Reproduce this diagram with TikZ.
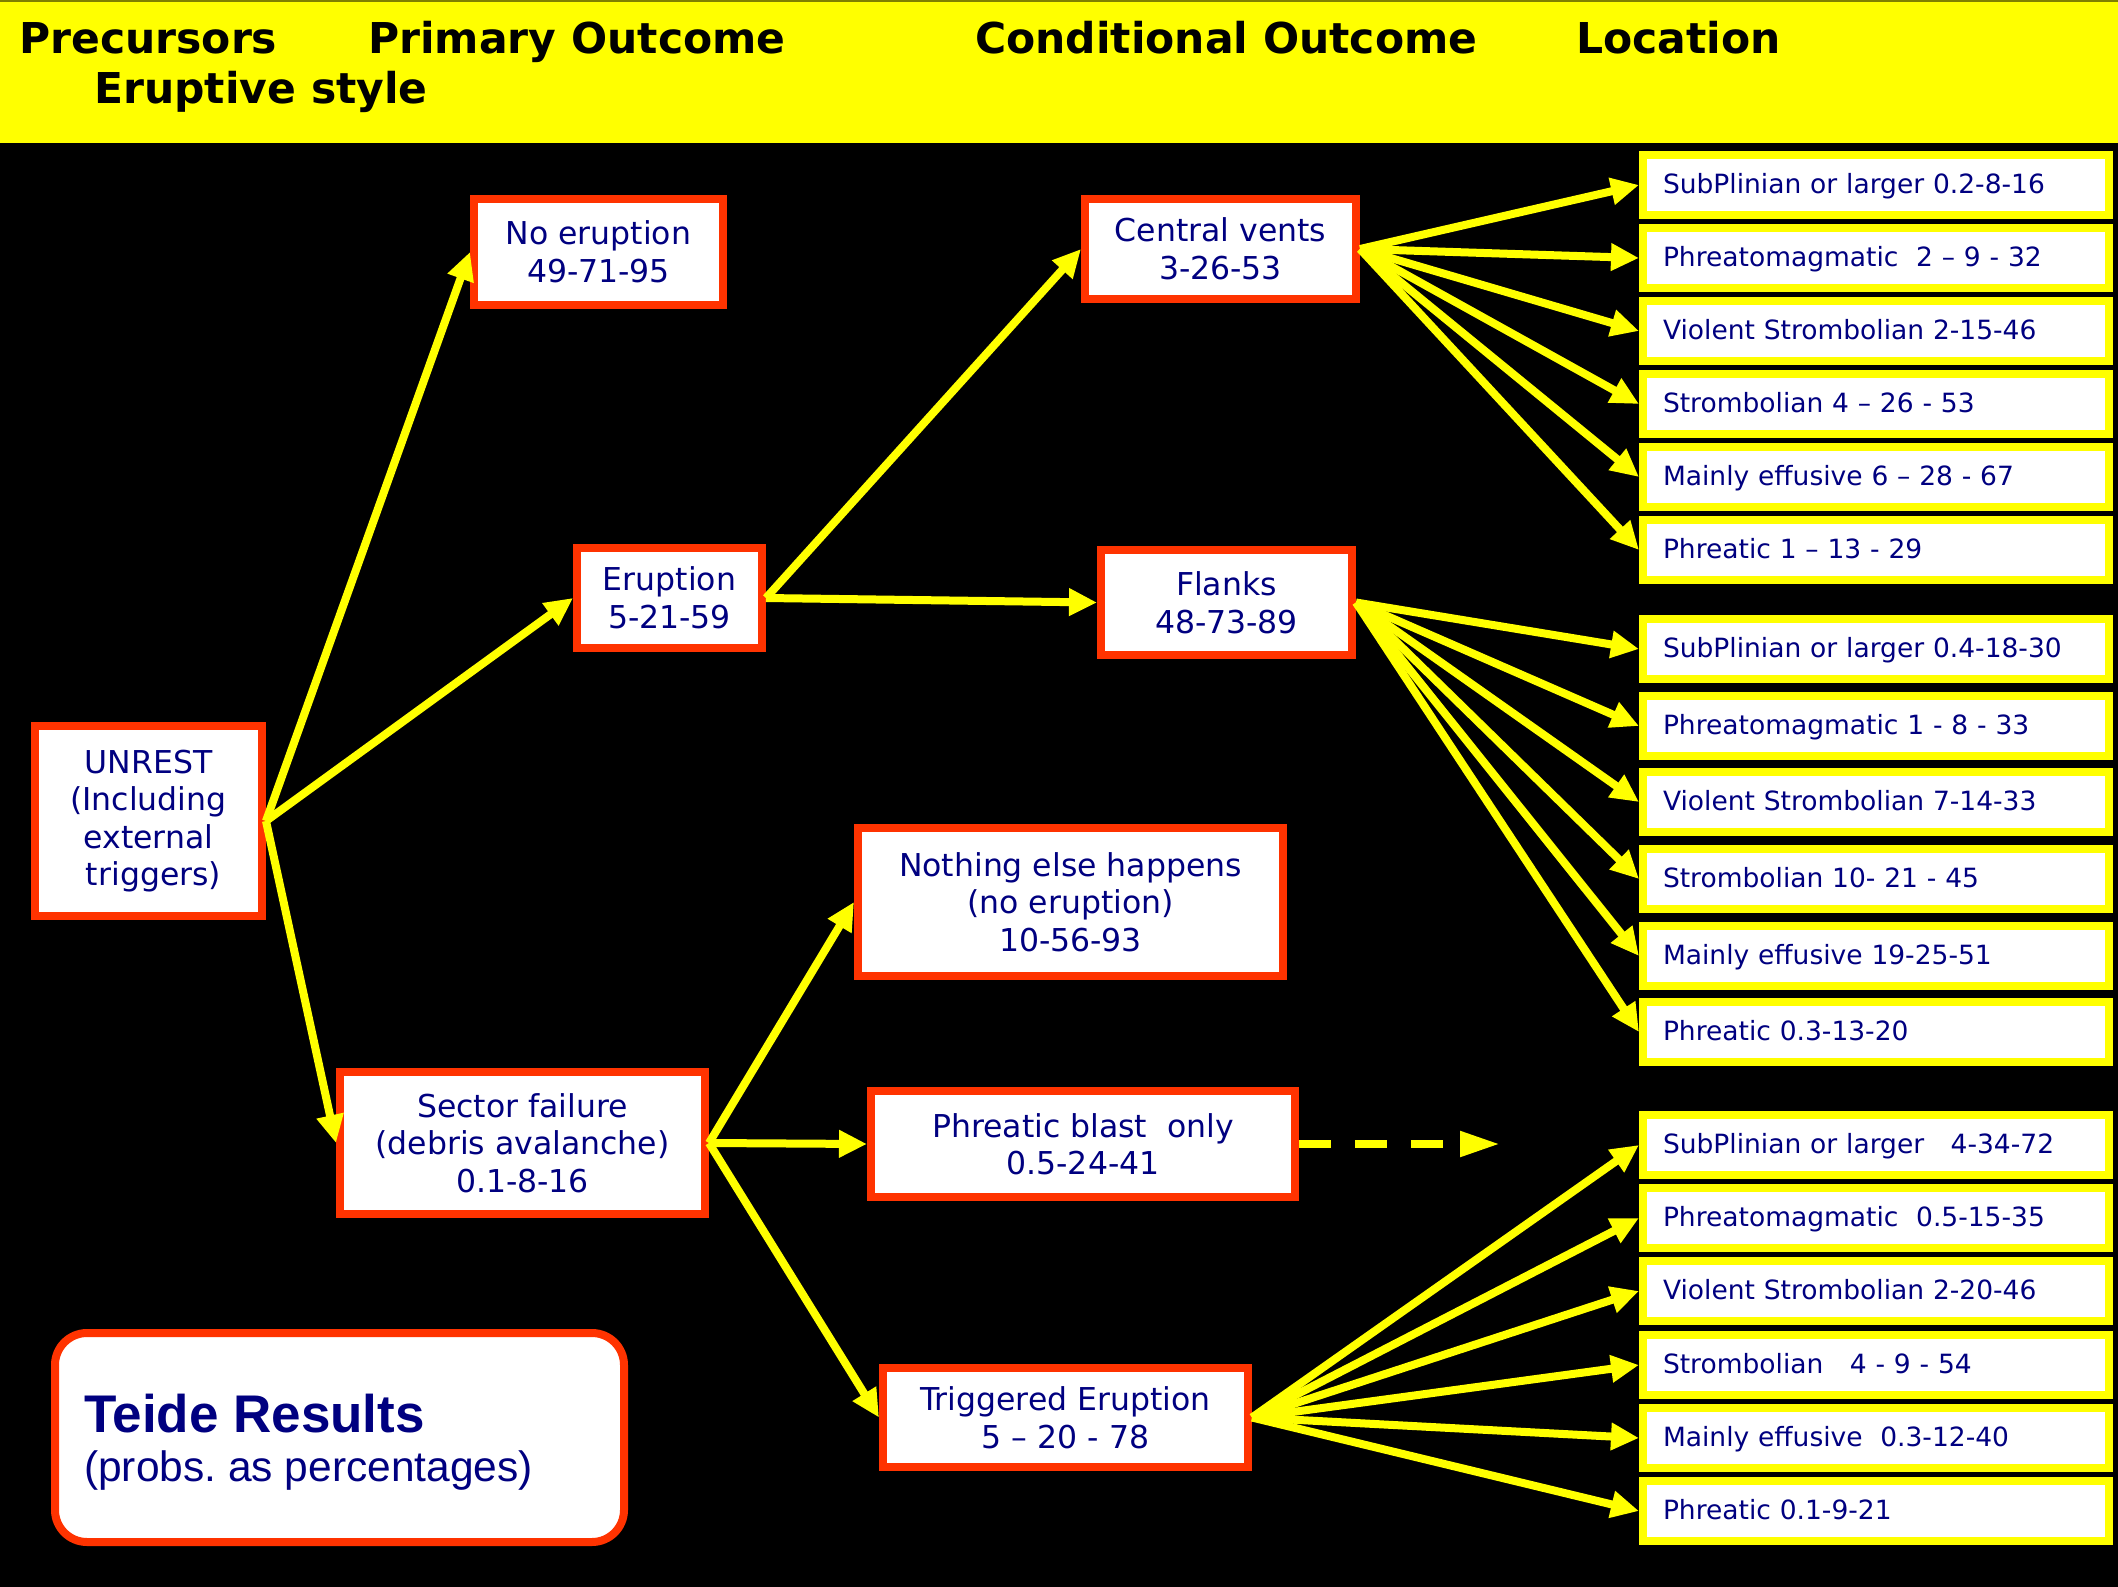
\documentclass[tikz,border=0pt]{standalone}
\usepackage{fontspec}
\setmainfont{DejaVu Sans}
\newfontfamily\titlefont{Liberation Sans}
\usetikzlibrary{arrows.meta}

\definecolor{boxred}{HTML}{FF3300}
\definecolor{txtnavy}{HTML}{000080}
\definecolor{hiyellow}{HTML}{FFFF00}
\definecolor{bandedge}{HTML}{7F7F00}

\tikzset{
  outcome/.style={draw=boxred, line width=8pt, fill=white, text=txtnavy,
    align=center, inner sep=0pt, font=\fontsize{31.5}{37.5}\selectfont},
  stylebox/.style={draw=hiyellow, line width=8pt, fill=white, text=txtnavy,
    font=\fontsize{26.5}{32}\selectfont, minimum width=466pt, minimum height=60pt,
    text width=426pt, inner xsep=20pt, inner ysep=0pt, align=left,
    text height=19pt, text depth=3pt},
  flow/.style={draw=hiyellow, line width=8pt, -{Triangle[length=28pt,width=26pt]}},
  header/.style={font=\fontsize{42.5}{50}\selectfont\bfseries, text=black,
    anchor=base west, inner sep=0pt},
}

\begin{document}
\begin{tikzpicture}[x=1pt, y=-1pt]
\useasboundingbox (0,0) rectangle (2118,1587);
% background and title band
\fill[black] (0,0) rectangle (2118,1587);
\fill[hiyellow] (0,0) rectangle (2118,143);
\draw[bandedge, line width=2pt] (0,1) -- (2118,1);

% column headings
\node[header] (hprec) at (19,54) {Precursors};
\node[header] (hprim) at (368,54) {Primary Outcome};
\node[header] (hcond) at (975,54) {Conditional Outcome};
\node[header] (hloc) at (1576,54) {Location};
\node[header] (hstyle) at (94,103) {Eruptive style};

% event tree boxes
\node[outcome, minimum width=227pt, minimum height=190pt] (unrest) at (148.5,821)
  {UNREST\\(Including\\external\\\ triggers)};
\node[outcome, minimum width=249pt, minimum height=106pt] (noer) at (598.5,252)
  {No eruption\\49-71-95};
\node[outcome, minimum width=185pt, minimum height=100pt] (erup) at (669.5,598)
  {Eruption\\5-21-59};
\node[outcome, minimum width=365pt, minimum height=142pt] (sector) at (522.5,1143)
  {Sector failure\\(debris avalanche)\\0.1-8-16};
\node[outcome, minimum width=271pt, minimum height=100pt] (cent) at (1220.5,249)
  {Central vents\\3-26-53};
\node[outcome, minimum width=251pt, minimum height=105pt] (flank) at (1226.5,602.5)
  {Flanks\\48-73-89};
\node[outcome, minimum width=425pt, minimum height=148pt] (nothing) at (1070.5,902)
  {Nothing else happens\\(no eruption)\\10-56-93};
\node[outcome, minimum width=424pt, minimum height=106pt] (blast) at (1083,1144)
  {Phreatic blast\ \ only\\0.5-24-41};
\node[outcome, minimum width=365pt, minimum height=99pt] (trig) at (1065.5,1417.5)
  {Triggered Eruption\\5 – 20 - 78};

% eruptive style boxes: central vents
\node[stylebox] (ca) at (1876,185) {SubPlinian or larger 0.2-8-16};
\node[stylebox] (cb) at (1876,258) {Phreatomagmatic\ \ 2 – 9 - 32};
\node[stylebox] (cc) at (1876,331) {Violent Strombolian 2-15-46};
\node[stylebox] (cd) at (1876,404) {Strombolian 4 – 26 - 53};
\node[stylebox] (ce) at (1876,477) {Mainly effusive 6 – 28 - 67};
\node[stylebox] (cf) at (1876,550) {Phreatic 1 – 13 - 29};
% flanks
\node[stylebox] (fa) at (1876,649) {SubPlinian or larger 0.4-18-30};
\node[stylebox] (fb) at (1876,726) {Phreatomagmatic 1 - 8 - 33};
\node[stylebox] (fc) at (1876,802) {Violent Strombolian 7-14-33};
\node[stylebox] (fd) at (1876,879) {Strombolian 10- 21 - 45};
\node[stylebox] (fe) at (1876,956) {Mainly effusive 19-25-51};
\node[stylebox] (ff) at (1876,1032) {Phreatic 0.3-13-20};
% triggered eruption
\node[stylebox] (ta) at (1876,1145) {SubPlinian or larger\ \ \ 4-34-72};
\node[stylebox] (tb) at (1876,1218) {Phreatomagmatic\ \ 0.5-15-35};
\node[stylebox] (tc) at (1876,1291) {Violent Strombolian 2-20-46};
\node[stylebox] (td) at (1876,1365) {Strombolian\ \ \ 4 - 9 - 54};
\node[stylebox] (te) at (1876,1438) {Mainly effusive\ \ 0.3-12-40};
\node[stylebox] (tf) at (1876,1511) {Phreatic 0.1-9-21};

% legend box
\node[draw=boxred, line width=8pt, fill=white, rounded corners=32pt,
  minimum width=569pt, minimum height=209pt] (teide) at (339.5,1437.5) {};
\node[anchor=base west, inner sep=0pt, text=txtnavy,
  font=\titlefont\fontsize{53}{60}\selectfont\bfseries] (teidetitle) at (84,1432) {Teide Results};
\node[anchor=base west, inner sep=0pt, text=txtnavy,
  font=\titlefont\fontsize{42.5}{50}\selectfont] (teidesub) at (84,1481) {(probs.\ as percentages)};

% connectors
\draw[flow] (unrest.east) -- (noer.west);
\draw[flow] (unrest.east) -- (erup.west);
\draw[flow] (unrest.east) -- (sector.west);
\draw[flow] (erup.east) -- (cent.west);
\draw[flow] (erup.east) -- (flank.west);
\draw[flow] (sector.east) -- (nothing.west);
\draw[flow] (sector.east) -- (blast.west);
\draw[flow] (sector.east) -- (trig.west);
\foreach \t in {ca,cb,cc,cd,ce,cf} \draw[flow] (cent.east) -- (\t.west);
\foreach \t in {fa,fb,fc,fd,fe,ff} \draw[flow] (flank.east) -- (\t.west);
\foreach \t in {ta,tb,tc,td,te,tf} \draw[flow] (trig.east) -- (\t.west);
\coordinate (blastend) at (1500,1144);
\draw[draw=hiyellow, line width=8pt, dash pattern=on 32pt off 24pt,
  -{Triangle[length=40pt,width=24pt]}] (blast.east) -- (blastend);
\end{tikzpicture}
\end{document}
